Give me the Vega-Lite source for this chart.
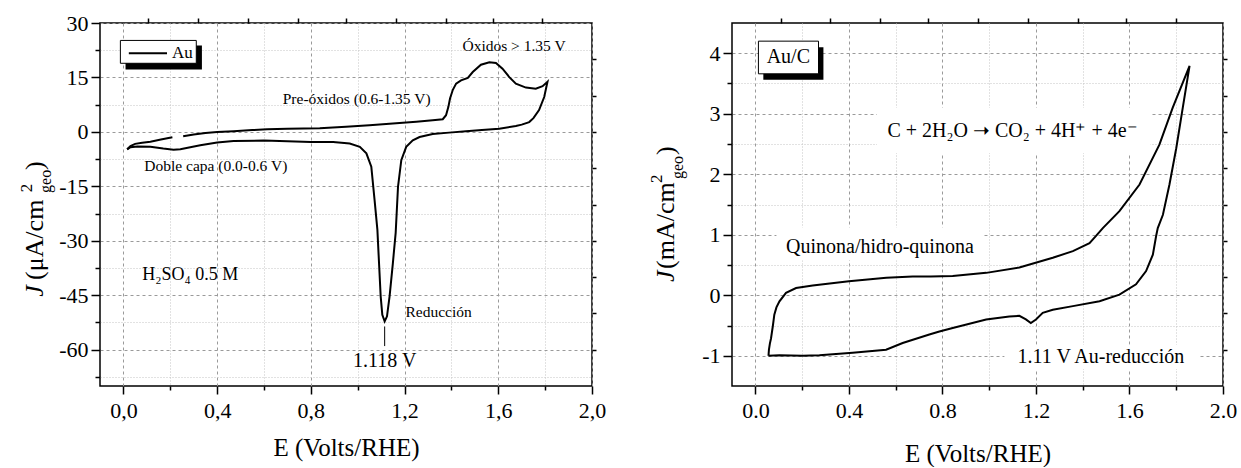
{
  "$schema": "https://vega.github.io/schema/vega-lite/v6.json",
  "padding": {"left": 17, "top": 11, "right": 0, "bottom": 0},
  "spacing": 40,
  "config": {
    "font": "Liberation Serif",
    "view": {"stroke": "black", "strokeWidth": 1.5},
    "axis": {"labelFont": "Liberation Serif", "labelFontSize": 22, "labelColor": "black", "tickColor": "black", "tickWidth": 1.5, "titleFont": "Liberation Serif", "titleFontSize": 25, "titleFontWeight": "normal", "titleColor": "black", "labelFlush": false, "labelOverlap": false},
    "text": {"font": "Liberation Serif", "color": "black"}
  },
  "datasets": {
    "one": [{}],
    "cvAu": [
      {"seg": 1, "i": 0, "E": 0.016, "J": -4.8}, {"seg": 1, "i": 1, "E": 0.03, "J": -3.9}, {"seg": 1, "i": 2, "E": 0.05, "J": -3.3}, {"seg": 1, "i": 3, "E": 0.08, "J": -3.0}, {"seg": 1, "i": 4, "E": 0.115, "J": -2.7}, {"seg": 1, "i": 5, "E": 0.16, "J": -2.1}, {"seg": 1, "i": 6, "E": 0.209, "J": -1.5},
      {"seg": 2, "i": 7, "E": 0.255, "J": -1.2}, {"seg": 2, "i": 8, "E": 0.3, "J": -0.7}, {"seg": 2, "i": 9, "E": 0.35, "J": -0.3}, {"seg": 2, "i": 10, "E": 0.4, "J": 0.0}, {"seg": 2, "i": 11, "E": 0.47, "J": 0.2}, {"seg": 2, "i": 12, "E": 0.55, "J": 0.5}, {"seg": 2, "i": 13, "E": 0.613, "J": 0.7}, {"seg": 2, "i": 14, "E": 0.7, "J": 0.85}, {"seg": 2, "i": 15, "E": 0.838, "J": 1.0}, {"seg": 2, "i": 16, "E": 0.95, "J": 1.4}, {"seg": 2, "i": 17, "E": 1.05, "J": 1.8}, {"seg": 2, "i": 18, "E": 1.15, "J": 2.3}, {"seg": 2, "i": 19, "E": 1.25, "J": 2.8}, {"seg": 2, "i": 20, "E": 1.32, "J": 3.2}, {"seg": 2, "i": 21, "E": 1.363, "J": 3.5}, {"seg": 2, "i": 22, "E": 1.377, "J": 4.6}, {"seg": 2, "i": 23, "E": 1.387, "J": 6.9}, {"seg": 2, "i": 24, "E": 1.394, "J": 9.2}, {"seg": 2, "i": 25, "E": 1.406, "J": 11.6}, {"seg": 2, "i": 26, "E": 1.42, "J": 13.3}, {"seg": 2, "i": 27, "E": 1.441, "J": 14.2}, {"seg": 2, "i": 28, "E": 1.47, "J": 14.9}, {"seg": 2, "i": 29, "E": 1.491, "J": 16.5}, {"seg": 2, "i": 30, "E": 1.526, "J": 18.5}, {"seg": 2, "i": 31, "E": 1.562, "J": 19.2}, {"seg": 2, "i": 32, "E": 1.59, "J": 19.0}, {"seg": 2, "i": 33, "E": 1.618, "J": 17.4}, {"seg": 2, "i": 34, "E": 1.647, "J": 15.1}, {"seg": 2, "i": 35, "E": 1.675, "J": 13.3}, {"seg": 2, "i": 36, "E": 1.718, "J": 12.2}, {"seg": 2, "i": 37, "E": 1.76, "J": 11.9}, {"seg": 2, "i": 38, "E": 1.789, "J": 12.6}, {"seg": 2, "i": 39, "E": 1.81, "J": 13.8},
      {"seg": 2, "i": 40, "E": 1.796, "J": 9.6}, {"seg": 2, "i": 41, "E": 1.774, "J": 6.0}, {"seg": 2, "i": 42, "E": 1.75, "J": 3.8}, {"seg": 2, "i": 43, "E": 1.732, "J": 2.7}, {"seg": 2, "i": 44, "E": 1.7, "J": 2.0}, {"seg": 2, "i": 45, "E": 1.675, "J": 1.6}, {"seg": 2, "i": 46, "E": 1.604, "J": 0.9}, {"seg": 2, "i": 47, "E": 1.53, "J": 0.5}, {"seg": 2, "i": 48, "E": 1.462, "J": 0.2}, {"seg": 2, "i": 49, "E": 1.39, "J": -0.2}, {"seg": 2, "i": 50, "E": 1.32, "J": -0.6}, {"seg": 2, "i": 51, "E": 1.264, "J": -1.4}, {"seg": 2, "i": 52, "E": 1.235, "J": -2.3}, {"seg": 2, "i": 53, "E": 1.207, "J": -4.1}, {"seg": 2, "i": 54, "E": 1.186, "J": -7.8}, {"seg": 2, "i": 55, "E": 1.172, "J": -15.1}, {"seg": 2, "i": 56, "E": 1.162, "J": -27.8}, {"seg": 2, "i": 57, "E": 1.15, "J": -36.2}, {"seg": 2, "i": 58, "E": 1.136, "J": -45.3}, {"seg": 2, "i": 59, "E": 1.125, "J": -50.8}, {"seg": 2, "i": 60, "E": 1.115, "J": -52.2}, {"seg": 2, "i": 61, "E": 1.105, "J": -50.4}, {"seg": 2, "i": 62, "E": 1.098, "J": -45.3}, {"seg": 2, "i": 63, "E": 1.091, "J": -36.2}, {"seg": 2, "i": 64, "E": 1.084, "J": -27.0}, {"seg": 2, "i": 65, "E": 1.072, "J": -18.8}, {"seg": 2, "i": 66, "E": 1.058, "J": -9.6}, {"seg": 2, "i": 67, "E": 1.037, "J": -5.9}, {"seg": 2, "i": 68, "E": 1.009, "J": -4.1}, {"seg": 2, "i": 69, "E": 0.966, "J": -3.2}, {"seg": 2, "i": 70, "E": 0.895, "J": -2.8}, {"seg": 2, "i": 71, "E": 0.8, "J": -2.8}, {"seg": 2, "i": 72, "E": 0.7, "J": -2.6}, {"seg": 2, "i": 73, "E": 0.6, "J": -2.4}, {"seg": 2, "i": 74, "E": 0.47, "J": -2.5}, {"seg": 2, "i": 75, "E": 0.4, "J": -2.9}, {"seg": 2, "i": 76, "E": 0.328, "J": -3.7}, {"seg": 2, "i": 77, "E": 0.28, "J": -4.3}, {"seg": 2, "i": 78, "E": 0.243, "J": -4.8}, {"seg": 2, "i": 79, "E": 0.214, "J": -4.9}, {"seg": 2, "i": 80, "E": 0.17, "J": -4.6}, {"seg": 2, "i": 81, "E": 0.115, "J": -4.1}, {"seg": 2, "i": 82, "E": 0.06, "J": -4.0}, {"seg": 2, "i": 83, "E": 0.03, "J": -4.2}, {"seg": 2, "i": 84, "E": 0.016, "J": -4.8}
    ],
    "cvAuC": [
      {"i": 0, "E": 0.056, "J": -1.0}, {"i": 1, "E": 0.058, "J": -0.9}, {"i": 2, "E": 0.062, "J": -0.8}, {"i": 3, "E": 0.067, "J": -0.71}, {"i": 4, "E": 0.075, "J": -0.5}, {"i": 5, "E": 0.081, "J": -0.32}, {"i": 6, "E": 0.09, "J": -0.2}, {"i": 7, "E": 0.103, "J": -0.1}, {"i": 8, "E": 0.131, "J": 0.04}, {"i": 9, "E": 0.174, "J": 0.12}, {"i": 10, "E": 0.245, "J": 0.16}, {"i": 11, "E": 0.4, "J": 0.23}, {"i": 12, "E": 0.56, "J": 0.29}, {"i": 13, "E": 0.673, "J": 0.31}, {"i": 14, "E": 0.75, "J": 0.31}, {"i": 15, "E": 0.844, "J": 0.32}, {"i": 16, "E": 0.987, "J": 0.37}, {"i": 17, "E": 1.129, "J": 0.46}, {"i": 18, "E": 1.272, "J": 0.62}, {"i": 19, "E": 1.358, "J": 0.73}, {"i": 20, "E": 1.429, "J": 0.86}, {"i": 21, "E": 1.457, "J": 0.98}, {"i": 22, "E": 1.486, "J": 1.11}, {"i": 23, "E": 1.557, "J": 1.39}, {"i": 24, "E": 1.643, "J": 1.83}, {"i": 25, "E": 1.728, "J": 2.49}, {"i": 26, "E": 1.785, "J": 3.1}, {"i": 27, "E": 1.857, "J": 3.79},
      {"i": 28, "E": 1.828, "J": 3.1}, {"i": 29, "E": 1.8, "J": 2.43}, {"i": 30, "E": 1.771, "J": 1.83}, {"i": 31, "E": 1.743, "J": 1.33}, {"i": 32, "E": 1.721, "J": 1.11}, {"i": 33, "E": 1.714, "J": 0.98}, {"i": 34, "E": 1.7, "J": 0.67}, {"i": 35, "E": 1.671, "J": 0.4}, {"i": 36, "E": 1.628, "J": 0.18}, {"i": 37, "E": 1.557, "J": 0.01}, {"i": 38, "E": 1.472, "J": -0.1}, {"i": 39, "E": 1.358, "J": -0.18}, {"i": 40, "E": 1.272, "J": -0.24}, {"i": 41, "E": 1.229, "J": -0.29}, {"i": 42, "E": 1.2, "J": -0.4}, {"i": 43, "E": 1.178, "J": -0.46}, {"i": 44, "E": 1.157, "J": -0.4}, {"i": 45, "E": 1.129, "J": -0.34}, {"i": 46, "E": 1.086, "J": -0.35}, {"i": 47, "E": 0.987, "J": -0.4}, {"i": 48, "E": 0.844, "J": -0.54}, {"i": 49, "E": 0.787, "J": -0.6}, {"i": 50, "E": 0.744, "J": -0.65}, {"i": 51, "E": 0.63, "J": -0.79}, {"i": 52, "E": 0.559, "J": -0.9}, {"i": 53, "E": 0.416, "J": -0.95}, {"i": 54, "E": 0.274, "J": -0.99}, {"i": 55, "E": 0.202, "J": -1.0}, {"i": 56, "E": 0.103, "J": -0.99}, {"i": 57, "E": 0.056, "J": -1.0}
    ]
  },
  "hconcat": [
    {
      "width": 492, "height": 363,
      "resolve": {"axis": {"x": "independent", "y": "independent"}},
      "layer": [
        {
          "data": {"name": "cvAu"}, "mark": {"type": "point", "opacity": 0},
          "encoding": {
            "x": {"field": "E", "type": "quantitative", "scale": {"domain": [-0.1, 2.0], "nice": false, "zero": false}, "axis": {"orient": "bottom", "values": [0.2, 0.6, 1.0, 1.4, 1.8], "labels": false, "tickSize": 4, "grid": true, "gridColor": "#c4c4c4", "gridDash": [1, 2], "domain": false, "title": null}},
            "y": {"field": "J", "type": "quantitative", "scale": {"domain": [-70, 30], "nice": false, "zero": false}, "axis": {"orient": "left", "values": [22.5, 7.5, -7.5, -22.5, -37.5, -52.5, -67.5], "labels": false, "tickSize": 5, "grid": true, "gridColor": "#c4c4c4", "gridDash": [1, 2], "domain": false, "title": null}}
          }
        },
        {
          "data": {"name": "cvAu"}, "mark": {"type": "point", "opacity": 0},
          "encoding": {
            "x": {"field": "E", "type": "quantitative", "scale": {"domain": [-0.1, 2.0], "nice": false, "zero": false}, "axis": {"orient": "top", "values": [0.106, 0.319, 0.532, 0.745, 0.949, 1.162, 1.375, 1.579, 1.787], "labels": false, "tickSize": 5, "grid": false, "domain": false, "title": null}},
            "y": {"field": "J", "type": "quantitative", "scale": {"domain": [-70, 30], "nice": false, "zero": false}, "axis": {"orient": "right", "values": [20, 10, 0, -10, -20, -30, -40, -50, -60], "labels": false, "tickSize": 4, "grid": false, "domain": false, "title": null}}
          }
        },
        {
          "data": {"name": "one"},
          "mark": {"type": "rect", "fill": "black"},
          "encoding": {
            "x": {"datum": 0.009, "type": "quantitative", "scale": {"domain": [-0.1, 2.0], "nice": false, "zero": false}, "axis": null},
            "x2": {"datum": 0.335},
            "y": {"datum": 23.8, "type": "quantitative", "scale": {"domain": [-70, 30], "nice": false, "zero": false}, "axis": null},
            "y2": {"datum": 17.2}
          }
        },
        {
          "data": {"name": "one"},
          "mark": {"type": "rect", "fill": "white", "stroke": "black", "strokeWidth": 1},
          "encoding": {
            "x": {"datum": -0.013, "type": "quantitative", "scale": {"domain": [-0.1, 2.0], "nice": false, "zero": false}, "axis": null},
            "x2": {"datum": 0.311},
            "y": {"datum": 25.2, "type": "quantitative", "scale": {"domain": [-70, 30], "nice": false, "zero": false}, "axis": null},
            "y2": {"datum": 18.9}
          }
        },
        {
          "data": {"name": "one"},
          "mark": {"type": "rule", "color": "black", "strokeWidth": 2},
          "encoding": {
            "x": {"datum": 0.023, "type": "quantitative", "scale": {"domain": [-0.1, 2.0], "nice": false, "zero": false}, "axis": null},
            "x2": {"datum": 0.186},
            "y": {"datum": 21.7, "type": "quantitative", "scale": {"domain": [-70, 30], "nice": false, "zero": false}, "axis": null}
          }
        },
        {
          "data": {"name": "one"},
          "mark": {"type": "rule", "color": "black", "strokeWidth": 1},
          "encoding": {
            "x": {"datum": 1.115, "type": "quantitative", "scale": {"domain": [-0.1, 2.0], "nice": false, "zero": false}, "axis": null},
            "y": {"datum": -53.6, "type": "quantitative", "scale": {"domain": [-70, 30], "nice": false, "zero": false}, "axis": null},
            "y2": {"datum": -59}
          }
        },
        {
          "data": {"name": "cvAu"},
          "mark": {"type": "line", "color": "black", "strokeWidth": 2},
          "encoding": {
            "x": {"field": "E", "type": "quantitative", "scale": {"domain": [-0.1, 2.0], "nice": false, "zero": false}, "axis": {"orient": "bottom", "values": [0, 0.4, 0.8, 1.2, 1.6, 2.0], "labelExpr": "replace(format(datum.value, '.1f'), '.', ',')", "tickSize": 8, "labelPadding": 6, "grid": true, "gridColor": "#9a9a9a", "gridDash": [3, 3], "domain": false, "title": "E (Volts/RHE)", "titlePadding": 14}},
            "y": {"field": "J", "type": "quantitative", "scale": {"domain": [-70, 30], "nice": false, "zero": false}, "axis": {"orient": "left", "values": [30, 15, 0, -15, -30, -45, -60], "labelExpr": "'' + datum.value", "tickSize": 9, "labelPadding": 3, "grid": true, "gridColor": "#9a9a9a", "gridDash": [3, 3], "domain": false, "title": null}},
            "detail": {"field": "seg"},
            "order": {"field": "i", "type": "quantitative"}
          }
        },
        {
          "data": {"values": [
            {"label": "Óxidos > 1.35 V", "E": 1.447, "J": 23.8},
            {"label": "Pre-óxidos (0.6-1.35 V)", "E": 0.68, "J": 9.2},
            {"label": "Doble capa (0.0-0.6 V)", "E": 0.089, "J": -9.3},
            {"label": "Reducción", "E": 1.204, "J": -49.7}
          ]},
          "mark": {"type": "text", "align": "left", "baseline": "middle", "fontSize": 15.5},
          "encoding": {
            "x": {"field": "E", "type": "quantitative", "scale": {"domain": [-0.1, 2.0], "nice": false, "zero": false}, "axis": null},
            "y": {"field": "J", "type": "quantitative", "scale": {"domain": [-70, 30], "nice": false, "zero": false}, "axis": null},
            "text": {"field": "label"}
          }
        },
        {
          "data": {"values": [{"label": "H₂SO₄ 0.5 M", "E": 0.08, "J": -39.4}]},
          "mark": {"type": "text", "align": "left", "baseline": "middle", "fontSize": 18},
          "encoding": {
            "x": {"field": "E", "type": "quantitative", "scale": {"domain": [-0.1, 2.0], "nice": false, "zero": false}, "axis": null},
            "y": {"field": "J", "type": "quantitative", "scale": {"domain": [-70, 30], "nice": false, "zero": false}, "axis": null},
            "text": {"field": "label"}
          }
        },
        {
          "data": {"values": [{"label": "1.118 V", "E": 1.115, "J": -63.2}]},
          "mark": {"type": "text", "align": "center", "baseline": "middle", "fontSize": 20},
          "encoding": {
            "x": {"field": "E", "type": "quantitative", "scale": {"domain": [-0.1, 2.0], "nice": false, "zero": false}, "axis": null},
            "y": {"field": "J", "type": "quantitative", "scale": {"domain": [-70, 30], "nice": false, "zero": false}, "axis": null},
            "text": {"field": "label"}
          }
        },
        {
          "data": {"values": [{"label": "Au", "E": 0.207, "J": 21.7}]},
          "mark": {"type": "text", "align": "left", "baseline": "middle", "fontSize": 17},
          "encoding": {
            "x": {"field": "E", "type": "quantitative", "scale": {"domain": [-0.1, 2.0], "nice": false, "zero": false}, "axis": null},
            "y": {"field": "J", "type": "quantitative", "scale": {"domain": [-70, 30], "nice": false, "zero": false}, "axis": null},
            "text": {"field": "label"}
          }
        },
        {
          "data": {"name": "one"},
          "mark": {"type": "text", "text": "J", "angle": 270, "align": "left", "baseline": "alphabetic", "fontSize": 26, "fontStyle": "italic"},
          "encoding": {
            "x": {"datum": -0.345, "type": "quantitative", "scale": {"domain": [-0.1, 2.0], "nice": false, "zero": false}, "axis": null},
            "y": {"datum": -45.4, "type": "quantitative", "scale": {"domain": [-70, 30], "nice": false, "zero": false}, "axis": null}
          }
        },
        {
          "data": {"name": "one"},
          "mark": {"type": "text", "text": "(μA/cm", "angle": 270, "align": "left", "baseline": "alphabetic", "fontSize": 26},
          "encoding": {
            "x": {"datum": -0.345, "type": "quantitative", "scale": {"domain": [-0.1, 2.0], "nice": false, "zero": false}, "axis": null},
            "y": {"datum": -40.8, "type": "quantitative", "scale": {"domain": [-70, 30], "nice": false, "zero": false}, "axis": null}
          }
        },
        {
          "data": {"name": "one"},
          "mark": {"type": "text", "text": "2", "angle": 270, "align": "left", "baseline": "alphabetic", "fontSize": 17},
          "encoding": {
            "x": {"datum": -0.391, "type": "quantitative", "scale": {"domain": [-0.1, 2.0], "nice": false, "zero": false}, "axis": null},
            "y": {"datum": -16.6, "type": "quantitative", "scale": {"domain": [-70, 30], "nice": false, "zero": false}, "axis": null}
          }
        },
        {
          "data": {"name": "one"},
          "mark": {"type": "text", "text": "geo", "angle": 270, "align": "left", "baseline": "alphabetic", "fontSize": 16},
          "encoding": {
            "x": {"datum": -0.311, "type": "quantitative", "scale": {"domain": [-0.1, 2.0], "nice": false, "zero": false}, "axis": null},
            "y": {"datum": -16.8, "type": "quantitative", "scale": {"domain": [-70, 30], "nice": false, "zero": false}, "axis": null}
          }
        },
        {
          "data": {"name": "one"},
          "mark": {"type": "text", "text": ")", "angle": 270, "align": "left", "baseline": "alphabetic", "fontSize": 26},
          "encoding": {
            "x": {"datum": -0.345, "type": "quantitative", "scale": {"domain": [-0.1, 2.0], "nice": false, "zero": false}, "axis": null},
            "y": {"datum": -10.5, "type": "quantitative", "scale": {"domain": [-70, 30], "nice": false, "zero": false}, "axis": null}
          }
        }
      ]
    },
    {
      "width": 491, "height": 363,
      "resolve": {"axis": {"x": "independent", "y": "independent"}},
      "layer": [
        {
          "data": {"name": "cvAuC"}, "mark": {"type": "point", "opacity": 0},
          "encoding": {
            "x": {"field": "E", "type": "quantitative", "scale": {"domain": [-0.1, 2.0], "nice": false, "zero": false}, "axis": {"orient": "bottom", "values": [0.2, 0.6, 1.0, 1.4, 1.8], "labels": false, "tickSize": 4, "grid": true, "gridColor": "#c4c4c4", "gridDash": [1, 2], "domain": false, "title": null}},
            "y": {"field": "J", "type": "quantitative", "scale": {"domain": [-1.5, 4.5], "nice": false, "zero": false}, "axis": {"orient": "left", "values": [3.5, 2.5, 1.5, 0.5, -0.5], "labels": false, "tickSize": 5, "grid": true, "gridColor": "#c4c4c4", "gridDash": [1, 2], "domain": false, "title": null}}
          }
        },
        {
          "data": {"name": "cvAuC"}, "mark": {"type": "point", "opacity": 0},
          "encoding": {
            "x": {"field": "E", "type": "quantitative", "scale": {"domain": [-0.1, 2.0], "nice": false, "zero": false}, "axis": {"orient": "top", "values": [0.111, 0.321, 0.531, 0.74, 0.954, 1.168, 1.378, 1.587, 1.797], "labels": false, "tickSize": 5, "grid": false, "domain": false, "title": null}},
            "y": {"field": "J", "type": "quantitative", "scale": {"domain": [-1.5, 4.5], "nice": false, "zero": false}, "axis": {"orient": "right", "values": [3.9, 3.3, 2.7, 2.1, 1.5, 0.9, 0.3, -0.3, -0.9], "labels": false, "tickSize": 4, "grid": false, "domain": false, "title": null}}
          }
        },
        {
          "data": {"values": [
            {"x1": 0.52, "x2": 1.69, "y1": 3.1, "y2": 2.35},
            {"x1": 0.09, "x2": 0.97, "y1": 1.12, "y2": 0.58},
            {"x1": 1.065, "x2": 1.9, "y1": -0.82, "y2": -1.22}
          ]},
          "mark": {"type": "rect", "fill": "white"},
          "encoding": {
            "x": {"field": "x1", "type": "quantitative", "scale": {"domain": [-0.1, 2.0], "nice": false, "zero": false}, "axis": null},
            "x2": {"field": "x2"},
            "y": {"field": "y1", "type": "quantitative", "scale": {"domain": [-1.5, 4.5], "nice": false, "zero": false}, "axis": null},
            "y2": {"field": "y2"}
          }
        },
        {
          "data": {"name": "one"},
          "mark": {"type": "rect", "fill": "black"},
          "encoding": {
            "x": {"datum": 0.034, "type": "quantitative", "scale": {"domain": [-0.1, 2.0], "nice": false, "zero": false}, "axis": null},
            "x2": {"datum": 0.291},
            "y": {"datum": 4.1, "type": "quantitative", "scale": {"domain": [-1.5, 4.5], "nice": false, "zero": false}, "axis": null},
            "y2": {"datum": 3.56}
          }
        },
        {
          "data": {"name": "one"},
          "mark": {"type": "rect", "fill": "white", "stroke": "black", "strokeWidth": 1},
          "encoding": {
            "x": {"datum": 0.013, "type": "quantitative", "scale": {"domain": [-0.1, 2.0], "nice": false, "zero": false}, "axis": null},
            "x2": {"datum": 0.27},
            "y": {"datum": 4.2, "type": "quantitative", "scale": {"domain": [-1.5, 4.5], "nice": false, "zero": false}, "axis": null},
            "y2": {"datum": 3.66}
          }
        },
        {
          "data": {"name": "cvAuC"},
          "mark": {"type": "line", "color": "black", "strokeWidth": 2},
          "encoding": {
            "x": {"field": "E", "type": "quantitative", "scale": {"domain": [-0.1, 2.0], "nice": false, "zero": false}, "axis": {"orient": "bottom", "values": [0, 0.4, 0.8, 1.2, 1.6, 2.0], "format": ".1f", "tickSize": 8, "labelPadding": 6, "grid": true, "gridColor": "#9a9a9a", "gridDash": [3, 3], "domain": false, "title": "E (Volts/RHE)", "titlePadding": 20}},
            "y": {"field": "J", "type": "quantitative", "scale": {"domain": [-1.5, 4.5], "nice": false, "zero": false}, "axis": {"orient": "left", "values": [4, 3, 2, 1, 0, -1], "labelExpr": "'' + datum.value", "tickSize": 9, "labelPadding": 3, "grid": true, "gridColor": "#9a9a9a", "gridDash": [3, 3], "domain": false, "title": null}},
            "order": {"field": "i", "type": "quantitative"}
          }
        },
        {
          "data": {"values": [
            {"label": "C + 2H₂O ➝ CO₂ + 4H⁺ + 4e⁻", "E": 0.565, "J": 2.72},
            {"label": "Quinona/hidro-quinona", "E": 0.131, "J": 0.79},
            {"label": "1.11 V Au-reducción", "E": 1.121, "J": -1.02}
          ]},
          "mark": {"type": "text", "align": "left", "baseline": "middle", "fontSize": 20},
          "encoding": {
            "x": {"field": "E", "type": "quantitative", "scale": {"domain": [-0.1, 2.0], "nice": false, "zero": false}, "axis": null},
            "y": {"field": "J", "type": "quantitative", "scale": {"domain": [-1.5, 4.5], "nice": false, "zero": false}, "axis": null},
            "text": {"field": "label"}
          }
        },
        {
          "data": {"values": [{"label": "Au/C", "E": 0.141, "J": 3.93}]},
          "mark": {"type": "text", "align": "center", "baseline": "middle", "fontSize": 20},
          "encoding": {
            "x": {"field": "E", "type": "quantitative", "scale": {"domain": [-0.1, 2.0], "nice": false, "zero": false}, "axis": null},
            "y": {"field": "J", "type": "quantitative", "scale": {"domain": [-1.5, 4.5], "nice": false, "zero": false}, "axis": null},
            "text": {"field": "label"}
          }
        },
        {
          "data": {"name": "one"},
          "mark": {"type": "text", "text": "J", "angle": 270, "align": "left", "baseline": "alphabetic", "fontSize": 26, "fontStyle": "italic"},
          "encoding": {
            "x": {"datum": -0.346, "type": "quantitative", "scale": {"domain": [-0.1, 2.0], "nice": false, "zero": false}, "axis": null},
            "y": {"datum": 0.22, "type": "quantitative", "scale": {"domain": [-1.5, 4.5], "nice": false, "zero": false}, "axis": null}
          }
        },
        {
          "data": {"name": "one"},
          "mark": {"type": "text", "text": "(mA/cm", "angle": 270, "align": "left", "baseline": "alphabetic", "fontSize": 26},
          "encoding": {
            "x": {"datum": -0.346, "type": "quantitative", "scale": {"domain": [-0.1, 2.0], "nice": false, "zero": false}, "axis": null},
            "y": {"datum": 0.435, "type": "quantitative", "scale": {"domain": [-1.5, 4.5], "nice": false, "zero": false}, "axis": null}
          }
        },
        {
          "data": {"name": "one"},
          "mark": {"type": "text", "text": "2", "angle": 270, "align": "left", "baseline": "alphabetic", "fontSize": 17},
          "encoding": {
            "x": {"datum": -0.398, "type": "quantitative", "scale": {"domain": [-0.1, 2.0], "nice": false, "zero": false}, "axis": null},
            "y": {"datum": 1.856, "type": "quantitative", "scale": {"domain": [-1.5, 4.5], "nice": false, "zero": false}, "axis": null}
          }
        },
        {
          "data": {"name": "one"},
          "mark": {"type": "text", "text": "geo", "angle": 270, "align": "left", "baseline": "alphabetic", "fontSize": 16},
          "encoding": {
            "x": {"datum": -0.308, "type": "quantitative", "scale": {"domain": [-0.1, 2.0], "nice": false, "zero": false}, "axis": null},
            "y": {"datum": 1.92, "type": "quantitative", "scale": {"domain": [-1.5, 4.5], "nice": false, "zero": false}, "axis": null}
          }
        },
        {
          "data": {"name": "one"},
          "mark": {"type": "text", "text": ")", "angle": 270, "align": "left", "baseline": "alphabetic", "fontSize": 26},
          "encoding": {
            "x": {"datum": -0.346, "type": "quantitative", "scale": {"domain": [-0.1, 2.0], "nice": false, "zero": false}, "axis": null},
            "y": {"datum": 2.32, "type": "quantitative", "scale": {"domain": [-1.5, 4.5], "nice": false, "zero": false}, "axis": null}
          }
        }
      ]
    }
  ]
}
